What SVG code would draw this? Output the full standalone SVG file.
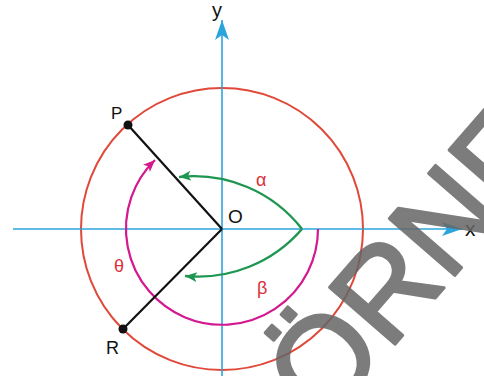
<svg xmlns="http://www.w3.org/2000/svg" width="484" height="376" viewBox="0 0 484 376">
<style>
.axis{stroke:#2ba4dc;stroke-width:1.6;fill:none}
.lbl{font-family:"Liberation Sans",Arial,sans-serif;fill:#111}
.greek{font-family:"Liberation Sans",Arial,sans-serif;fill:#d8323c;font-size:18px}
.green{stroke:#1f9650;stroke-width:2.4;fill:none}
.mag{stroke:#d4188f;stroke-width:2.2;fill:none}
.seg{stroke:#111;stroke-width:2.2}
</style>
<defs>
<marker id="axArrow" markerUnits="userSpaceOnUse" markerWidth="22" markerHeight="14" refX="20" refY="7" orient="auto">
<path d="M0,0 L20,7 L0,14 L5,7 z" fill="#2ba4dc"/>
</marker>
<marker id="gArrow" markerUnits="userSpaceOnUse" markerWidth="14" markerHeight="12" refX="12" refY="5" orient="auto">
<path d="M0,0 L12,5 L0,10 L3,5 z" fill="#1f9650"/>
</marker>
<marker id="mArrow" markerUnits="userSpaceOnUse" markerWidth="14" markerHeight="12" refX="12" refY="5" orient="auto">
<path d="M0,0 L12,5 L0,10 L3,5 z" fill="#d4188f"/>
</marker>
</defs>
<rect width="484" height="376" fill="#fff"/>
<g id="circle">
<circle cx="222" cy="229" r="141" fill="none" stroke="#e0483a" stroke-width="2"/>
</g>
<g id="axes">
<line class="axis" x1="13" y1="229" x2="462" y2="229" marker-end="url(#axArrow)"/>
<line class="axis" x1="222" y1="376" x2="222" y2="20" marker-end="url(#axArrow)"/>
<text class="lbl" x="465" y="236" font-size="21">x</text>
<text class="lbl" x="212" y="17" font-size="20">y</text>
</g>
<g id="angles">
<path class="green" d="M302,229 A137,137 0 0 0 179,177" marker-end="url(#gArrow)"/>
<path class="green" d="M302,229 A137,137 0 0 1 185,276" marker-end="url(#gArrow)"/>
<path class="mag" d="M318,229 A96,96 0 1 1 155,160" marker-end="url(#mArrow)"/>
<text class="greek" x="256" y="186">α</text>
<text class="greek" x="257" y="294">β</text>
<text class="greek" x="114" y="272">θ</text>
</g>
<g id="radii">
<line class="seg" x1="222" y1="229" x2="128" y2="125"/>
<line class="seg" x1="222" y1="229" x2="123" y2="329"/>
</g>
<g id="P">
<circle cx="128" cy="125" r="4.5" fill="#111"/>
<text class="lbl" x="111" y="119" font-size="17">P</text>
</g>
<g id="R">
<circle cx="123" cy="329" r="4.5" fill="#111"/>
<text class="lbl" x="106" y="354" font-size="18">R</text>
</g>
<g id="O">
<text class="lbl" x="228" y="223" font-size="19">O</text>
</g>
<g id="watermark" opacity="0.85">
<text x="0" y="0" transform="translate(324,426) rotate(-49)" font-family="'Liberation Sans',Arial,sans-serif" font-size="126" fill="#666" stroke="#666" stroke-width="3" stroke-linejoin="round">ÖRNEK</text>
</g>
</svg>
